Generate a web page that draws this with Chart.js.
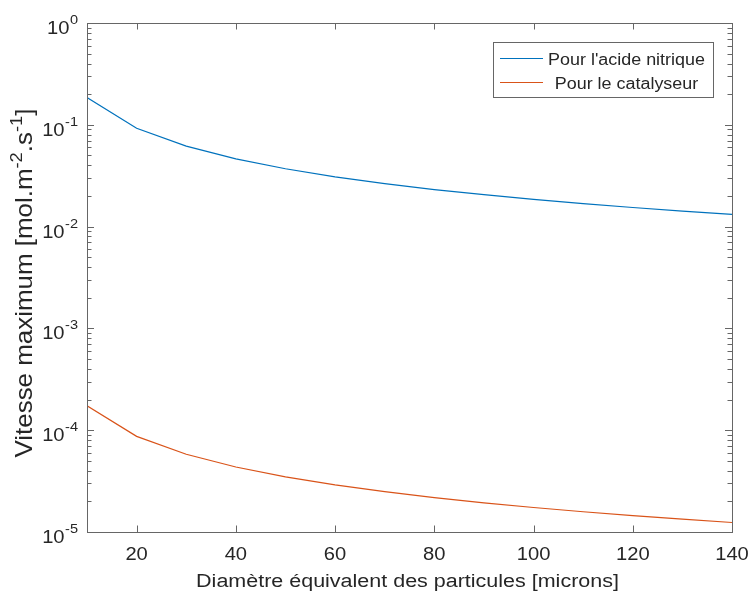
<!DOCTYPE html>
<html>
<head>
<meta charset="utf-8">
<script src="https://cdn.jsdelivr.net/npm/chart.js@4.4.1/dist/chart.umd.min.js"></script>
<style>
  html, body { margin: 0; padding: 0; background: #fff; }
  #wrap { width: 750px; height: 593px; }
</style>
</head>
<body>
<div id="wrap"><canvas id="chart" width="750" height="593"></canvas></div>
<script>
// Data
const diameters = [10, 20, 30, 40, 50, 60, 70, 80, 90, 100, 110, 120, 130, 140];
const nitricRate = [0.185, 0.0925, 0.0617, 0.0463, 0.037, 0.0308, 0.0264, 0.0231, 0.0206, 0.0185, 0.0168, 0.0154, 0.0142, 0.0132];
const catalystRate = [1.74e-4, 8.7e-5, 5.8e-5, 4.35e-5, 3.48e-5, 2.9e-5, 2.49e-5, 2.18e-5, 1.93e-5, 1.74e-5, 1.58e-5, 1.45e-5, 1.34e-5, 1.24e-5];
const seriesNames = ["Pour l'acide nitrique", 'Pour le catalyseur'];
const xTickValues = [20, 40, 60, 80, 100, 120, 140];
const yExponents = [0, -1, -2, -3, -4, -5];
const xTitle = 'Diamètre équivalent des particules [microns]';
const yTitleParts = [['Vitesse maximum [mol.m', false], ['-2', true], ['.s', false], ['-1', true], [']', false]];

const colors = ['#0072BD', '#D95319'];
const FONT = '"Liberation Sans", Arial, sans-serif';
const TEXT = '#262626';
const AXIS = '#666666';
const STRETCH = 1.12;

function setFont(ctx, size) {
    ctx.font = size + 'px ' + FONT;
}

function textWidth(ctx, str, size) {
    setFont(ctx, size);
    return ctx.measureText(str).width * STRETCH;
}

// horizontal text, slightly widened like the original figure
function drawText(ctx, str, x, y, size, align) {
    ctx.save();
    setFont(ctx, size);
    ctx.translate(x, y);
    ctx.scale(STRETCH, 1);
    ctx.textAlign = align;
    ctx.textBaseline = 'alphabetic';
    ctx.fillStyle = TEXT;
    ctx.fillText(str, 0, 0);
    ctx.restore();
}

const axesPlugin = {
    id: 'matlabAxes',
    afterDraw(chart) {
        const ctx = chart.ctx;
        const area = chart.chartArea;
        const xs = chart.scales.x;
        const ys = chart.scales.y;

        ctx.save();
        ctx.strokeStyle = AXIS;
        ctx.lineWidth = 1;

        // Box
        ctx.strokeRect(Math.round(area.left) + 0.5, Math.round(area.top) + 0.5,
            Math.round(area.right - area.left), Math.round(area.bottom - area.top));

        ctx.beginPath();
        // x ticks, bottom and top, pointing inside
        xTickValues.forEach(function(v) {
            const px = Math.round(xs.getPixelForValue(v)) + 0.5;
            ctx.moveTo(px, area.bottom);
            ctx.lineTo(px, area.bottom - 6.5);
            ctx.moveTo(px, area.top);
            ctx.lineTo(px, area.top + 6.5);
        });
        // y major and minor ticks, left and right
        yExponents.forEach(function(e) {
            const py = Math.round(ys.getPixelForValue(Math.pow(10, e))) + 0.5;
            ctx.moveTo(area.left, py);
            ctx.lineTo(area.left + 7, py);
            ctx.moveTo(area.right, py);
            ctx.lineTo(area.right - 7, py);
            if (e > -5) {
                for (let m = 2; m <= 9; m++) {
                    const pm = Math.round(ys.getPixelForValue(m * Math.pow(10, e - 1))) + 0.5;
                    ctx.moveTo(area.left, pm);
                    ctx.lineTo(area.left + 4.5, pm);
                    ctx.moveTo(area.right, pm);
                    ctx.lineTo(area.right - 4.5, pm);
                }
            }
        });
        ctx.stroke();

        // x tick labels
        xTickValues.forEach(function(v) {
            drawText(ctx, String(v), xs.getPixelForValue(v), area.bottom + 28, 18, 'center');
        });

        // y tick labels 10^e
        yExponents.forEach(function(e) {
            const py = ys.getPixelForValue(Math.pow(10, e));
            const exp = String(e);
            const wExp = textWidth(ctx, exp, 13);
            const right = area.left - 9;
            drawText(ctx, exp, right - wExp, py + 1, 13, 'left');
            drawText(ctx, '10', right - wExp - 0.5, py + 11, 18, 'right');
        });

        // x title
        drawText(ctx, xTitle, (area.left + area.right) / 2 - 2, 587, 19.2, 'center');

        // y title (rotated, with superscripts)
        ctx.save();
        ctx.translate(32, 283);
        ctx.rotate(-Math.PI / 2);
        ctx.scale(1.08, 1);
        ctx.fillStyle = TEXT;
        ctx.textBaseline = 'alphabetic';
        ctx.textAlign = 'left';
        let total = 0;
        yTitleParts.forEach(function(p) {
            setFont(ctx, p[1] ? 17 : 24);
            total += ctx.measureText(p[0]).width;
        });
        let cx = -total / 2;
        yTitleParts.forEach(function(p) {
            setFont(ctx, p[1] ? 17 : 24);
            ctx.fillText(p[0], cx, p[1] ? -10 : 0);
            cx += ctx.measureText(p[0]).width;
        });
        ctx.restore();

        // legend
        const box = { l: 493, t: 42, r: 713, b: 97 };
        ctx.fillStyle = '#ffffff';
        ctx.fillRect(box.l, box.t, box.r - box.l, box.b - box.t);
        ctx.strokeStyle = AXIS;
        ctx.strokeRect(box.l + 0.5, box.t + 0.5, box.r - box.l, box.b - box.t);
        const rows = [58, 82];
        seriesNames.forEach(function(name, i) {
            ctx.strokeStyle = colors[i];
            ctx.lineWidth = 1.2;
            ctx.beginPath();
            ctx.moveTo(500, rows[i] + 0.5);
            ctx.lineTo(543, rows[i] + 0.5);
            ctx.stroke();
            drawText(ctx, name, 626.5, rows[i] + 6.5, 16, 'center');
        });
        ctx.restore();
    }
};

new Chart(document.getElementById('chart'), {
    type: 'line',
    data: {
        datasets: [
            {
                label: seriesNames[0],
                data: diameters.map(function(d, i) { return { x: d, y: nitricRate[i] }; }),
                borderColor: colors[0],
                borderWidth: 1.2,
                pointRadius: 0,
                fill: false,
                tension: 0
            },
            {
                label: seriesNames[1],
                data: diameters.map(function(d, i) { return { x: d, y: catalystRate[i] }; }),
                borderColor: colors[1],
                borderWidth: 1.2,
                pointRadius: 0,
                fill: false,
                tension: 0
            }
        ]
    },
    options: {
        responsive: false,
        animation: false,
        devicePixelRatio: 1,
        layout: { padding: { top: 23, right: 18, left: 0, bottom: 0 } },
        plugins: {
            legend: { display: false },
            tooltip: { enabled: false }
        },
        scales: {
            x: {
                type: 'linear',
                min: 10,
                max: 140,
                ticks: { display: false },
                grid: { display: false },
                border: { display: false },
                afterFit: function(scale) { scale.height = 61; }
            },
            y: {
                type: 'logarithmic',
                min: 1e-5,
                max: 1,
                ticks: { display: false },
                grid: { display: false },
                border: { display: false },
                afterFit: function(scale) { scale.width = 87; }
            }
        }
    },
    plugins: [axesPlugin]
});
</script>
</body>
</html>
